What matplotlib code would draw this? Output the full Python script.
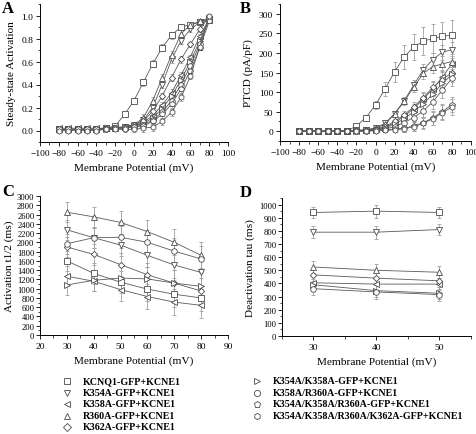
import matplotlib
matplotlib.use("Agg")
import matplotlib.pyplot as plt
from matplotlib.lines import Line2D
from matplotlib.ticker import MultipleLocator

plt.rcParams['font.family'] = ['Liberation Serif', 'DejaVu Serif']

# ---------------- data ----------------
names = ['KCNQ1-GFP+KCNE1', 'K354A-GFP+KCNE1', 'K358A-GFP+KCNE1', 'R360A-GFP+KCNE1',
         'K362A-GFP+KCNE1', 'K354A/K358A-GFP+KCNE1', 'K358A/R360A-GFP+KCNE1',
         'K354A/K358A/R360A-GFP+KCNE1', 'K354A/K358A/R360A/K362A-GFP+KCNE1']
markers = ['s', 'v', '<', '^', 'D', '>', 'o', 'p', 'h']

volt_ab = [-80, -70, -60, -50, -40, -30, -20, -10, 0, 10, 20, 30, 40, 50, 60, 70, 80]

act_kcnq1 = [0.01, 0.01, 0.01, 0.01, 0.01, 0.02, 0.04, 0.14, 0.26, 0.42, 0.58, 0.72, 0.83, 0.90, 0.92, 0.94, 0.96]
act_k354a = [0.01, 0.01, 0.01, 0.01, 0.01, 0.01, 0.02, 0.03, 0.05, 0.09, 0.20, 0.40, 0.62, 0.78, 0.88, 0.94, 0.97]
act_k358a = [0.02, 0.02, 0.02, 0.02, 0.02, 0.02, 0.03, 0.03, 0.04, 0.07, 0.13, 0.22, 0.33, 0.48, 0.64, 0.82, 0.97]
act_r360a = [0.01, 0.01, 0.01, 0.01, 0.01, 0.02, 0.02, 0.03, 0.05, 0.11, 0.26, 0.46, 0.66, 0.84, 0.92, 0.95, 0.98]
act_k362a = [0.01, 0.01, 0.01, 0.01, 0.01, 0.01, 0.02, 0.03, 0.05, 0.08, 0.17, 0.30, 0.46, 0.62, 0.75, 0.88, 0.99]
act_dbl = [0.01, 0.01, 0.01, 0.01, 0.01, 0.01, 0.02, 0.03, 0.04, 0.06, 0.11, 0.19, 0.30, 0.44, 0.60, 0.78, 0.98]
act_k358r360 = [0.01, 0.01, 0.01, 0.01, 0.01, 0.01, 0.02, 0.02, 0.03, 0.05, 0.09, 0.16, 0.26, 0.40, 0.56, 0.75, 0.97]
act_triple = [0.01, 0.01, 0.01, 0.01, 0.01, 0.01, 0.01, 0.02, 0.03, 0.04, 0.08, 0.14, 0.23, 0.36, 0.52, 0.72, 0.95]
act_quad = [0.00, 0.00, 0.00, 0.00, 0.00, 0.01, 0.01, 0.01, 0.01, 0.02, 0.03, 0.08, 0.16, 0.29, 0.47, 0.73, 1.00]
act_err = [0.01, 0.01, 0.01, 0.01, 0.01, 0.01, 0.01, 0.02, 0.02, 0.03, 0.03, 0.03, 0.03, 0.03, 0.02, 0.02, 0.01]

ptcd_kcnq1 = [0, 0, 0, 0, 0, 1, 13, 35, 67, 108, 152, 190, 215, 230, 237, 242, 246]
ptcd_kcnq1_err = [0, 0, 0, 0, 0, 1, 3, 6, 10, 18, 25, 30, 33, 35, 36, 37, 37]
ptcd_k354a = [0, 0, 0, 0, 0, 1, 2, 4, 8, 20, 45, 78, 118, 157, 183, 202, 208]
ptcd_k358a = [0, 0, 0, 0, 0, 0, 1, 3, 5, 10, 22, 38, 58, 82, 108, 138, 172]
ptcd_r360a = [0, 0, 0, 0, 0, 1, 2, 3, 7, 18, 44, 76, 112, 148, 165, 172, 178]
ptcd_k362a = [0, 0, 0, 0, 0, 0, 1, 2, 5, 12, 25, 42, 62, 86, 112, 132, 150]
ptcd_dbl = [0, 0, 0, 0, 0, 0, 1, 2, 4, 8, 18, 32, 50, 70, 95, 122, 145]
ptcd_k358r360 = [0, 0, 0, 0, 0, 0, 0, 1, 3, 5, 12, 22, 35, 52, 75, 105, 135]
ptcd_triple = [0, 0, 0, 0, 0, 0, 0, 1, 2, 3, 5, 8, 13, 22, 34, 50, 68]
ptcd_quad = [0, 0, 0, 0, 0, 0, 0, 0, 1, 2, 4, 6, 12, 20, 32, 47, 62]
ptcd_err = [0, 0, 0, 0, 0, 0, 1, 1, 2, 4, 6, 9, 12, 15, 17, 19, 20]

volt_c = [30, 40, 50, 60, 70, 80]
t12_kcnq1 = [1600, 1330, 1140, 990, 880, 800]
t12_k354a = [2270, 2100, 1940, 1720, 1510, 1350]
t12_k358a = [1270, 1160, 980, 830, 710, 640]
t12_r360a = [2650, 2550, 2430, 2230, 2000, 1720]
t12_k362a = [1900, 1740, 1520, 1300, 1120, 950]
t12_dbl = [1080, 1180, 1230, 1210, 1120, 1050]
t12_k358r360 = [1970, 2100, 2110, 2000, 1810, 1640]
t12_err = [220, 220, 240, 260, 280, 280]

volt_d = [30, 40, 50]
tau_kcnq1 = [940, 950, 940]
tau_k354a = [790, 790, 810]
tau_k358a = [405, 395, 395]
tau_r360a = [525, 500, 485]
tau_k362a = [465, 440, 420]
tau_dbl = [390, 345, 325]
tau_k358r360 = [360, 335, 315]
tau_err = [45, 50, 45]

# ---------------- plotting ----------------
W, H = 477, 435
fig = plt.figure(figsize=(W / 100, H / 100), dpi=100)

def rect(l, t, r, b):
    return [l / W, 1 - b / H, (r - l) / W, (b - t) / H]

axA = fig.add_axes(rect(40, 5, 228, 143))
axB = fig.add_axes(rect(280, 5, 471, 142))
axC = fig.add_axes(rect(40, 197, 228, 336))
axD = fig.add_axes(rect(282, 199, 471, 337))

line_c = '#5a5a5a'
mk_c = '#4a4a4a'
err_c = '#a0a0a0'

def series(ax, x, y, err, m, lw=0.6):
    ax.errorbar(x, y, yerr=err, fmt='none', ecolor=err_c, elinewidth=0.6,
                capsize=1.5, capthick=0.6, zorder=1)
    ms = 3.2 if m == 'D' else 4
    ax.plot(x, y, color=line_c, lw=lw, marker=m, ms=ms, mfc='white',
            mec=mk_c, mew=0.6, zorder=2)

A_series = [act_kcnq1, act_k354a, act_k358a, act_r360a, act_k362a, act_dbl,
            act_k358r360, act_triple, act_quad]
for y, m in zip(A_series, markers):
    series(axA, volt_ab, y, act_err, m)

B_series = [ptcd_kcnq1, ptcd_k354a, ptcd_k358a, ptcd_r360a, ptcd_k362a, ptcd_dbl,
            ptcd_k358r360, ptcd_triple, ptcd_quad]
for i, (y, m) in enumerate(zip(B_series, markers)):
    series(axB, volt_ab, y, ptcd_kcnq1_err if i == 0 else ptcd_err, m)

C_series = [t12_kcnq1, t12_k354a, t12_k358a, t12_r360a, t12_k362a, t12_dbl, t12_k358r360]
for y, m in zip(C_series, markers[:7]):
    series(axC, volt_c, y, t12_err, m)

D_series = [tau_kcnq1, tau_k354a, tau_k358a, tau_r360a, tau_k362a, tau_dbl, tau_k358r360]
for y, m in zip(D_series, markers[:7]):
    series(axD, volt_d, y, tau_err, m)

tick_fs = 6.8
lab_fs = 8.1
for ax in (axA, axB, axC, axD):
    for s in ('top', 'right'):
        ax.spines[s].set_visible(False)
    for s in ('left', 'bottom'):
        ax.spines[s].set_linewidth(0.7)
    ax.tick_params(which='major', direction='out', length=3, width=0.6,
                   labelsize=tick_fs, pad=2)
    ax.tick_params(which='minor', direction='out', length=1.8, width=0.5)
    ax.set_xlabel('Membrane Potential (mV)', fontsize=lab_fs, labelpad=4)

axA.set_xlim(-100, 100)
axA.set_ylim(-0.1, 1.1)
axA.xaxis.set_major_locator(MultipleLocator(20))
axA.xaxis.set_minor_locator(MultipleLocator(10))
axA.yaxis.set_minor_locator(MultipleLocator(0.1))
axA.set_yticks([0, 0.2, 0.4, 0.6, 0.8, 1.0])
axA.set_yticklabels(['0.0', '0.2', '0.4', '0.6', '0.8', '1.0'])
axA.set_ylabel('Steady-state Activation', fontsize=lab_fs, labelpad=4)

axB.set_xlim(-100, 100)
axB.set_ylim(-25, 325)
axB.xaxis.set_major_locator(MultipleLocator(20))
axB.xaxis.set_minor_locator(MultipleLocator(10))
axB.set_yticks([0, 50, 100, 150, 200, 250, 300])
axB.yaxis.set_minor_locator(MultipleLocator(25))
axB.set_ylabel('PTCD (pA/pF)', fontsize=lab_fs, labelpad=4)

axC.set_xlim(20, 90)
axC.set_ylim(0, 3000)
axC.xaxis.set_major_locator(MultipleLocator(10))
axC.xaxis.set_minor_locator(MultipleLocator(5))
axC.yaxis.set_major_locator(MultipleLocator(200))
axC.yaxis.set_minor_locator(MultipleLocator(100))
axC.tick_params(axis='y', labelsize=6.2, pad=1)
axC.set_ylabel('Activation t1/2 (ms)', fontsize=lab_fs, labelpad=2)

axD.set_xlim(25, 55)
axD.set_ylim(0, 1050)
axD.set_xticks([30, 40, 50])
axD.xaxis.set_minor_locator(MultipleLocator(5))
axD.yaxis.set_major_locator(MultipleLocator(100))
axD.yaxis.set_minor_locator(MultipleLocator(50))
axD.set_ylim(0, 1050)
axD.tick_params(axis='y', labelsize=6.2, pad=1)
axD.set_ylabel('Deactivation tau (ms)', fontsize=lab_fs, labelpad=3)

# panel letters
for txt, x, y in (('A', 2, 9), ('B', 240, 9), ('C', 2, 192), ('D', 240, 193)):
    fig.text(x / W, 1 - y / H, txt, fontsize=12, fontweight='bold', ha='left', va='center')

# legend (two columns)
rows = [382, 393.5, 405, 416.5, 428]
for i, (name, m) in enumerate(zip(names, markers)):
    if i < 5:
        mx, tx, yy = 67, 83, rows[i]
    else:
        mx, tx, yy = 257, 273, rows[i - 5]
    ms = 3.6 if m == 'D' else 4.5
    fig.add_artist(Line2D([mx / W], [1 - yy / H], marker=m, ms=ms, mfc='white',
                          mec=mk_c, mew=0.6, ls='none', transform=fig.transFigure))
    fig.text(tx / W, 1 - yy / H, name, fontsize=7.2, fontweight='bold',
             ha='left', va='center')

fig.savefig('out.png', dpi=100)
